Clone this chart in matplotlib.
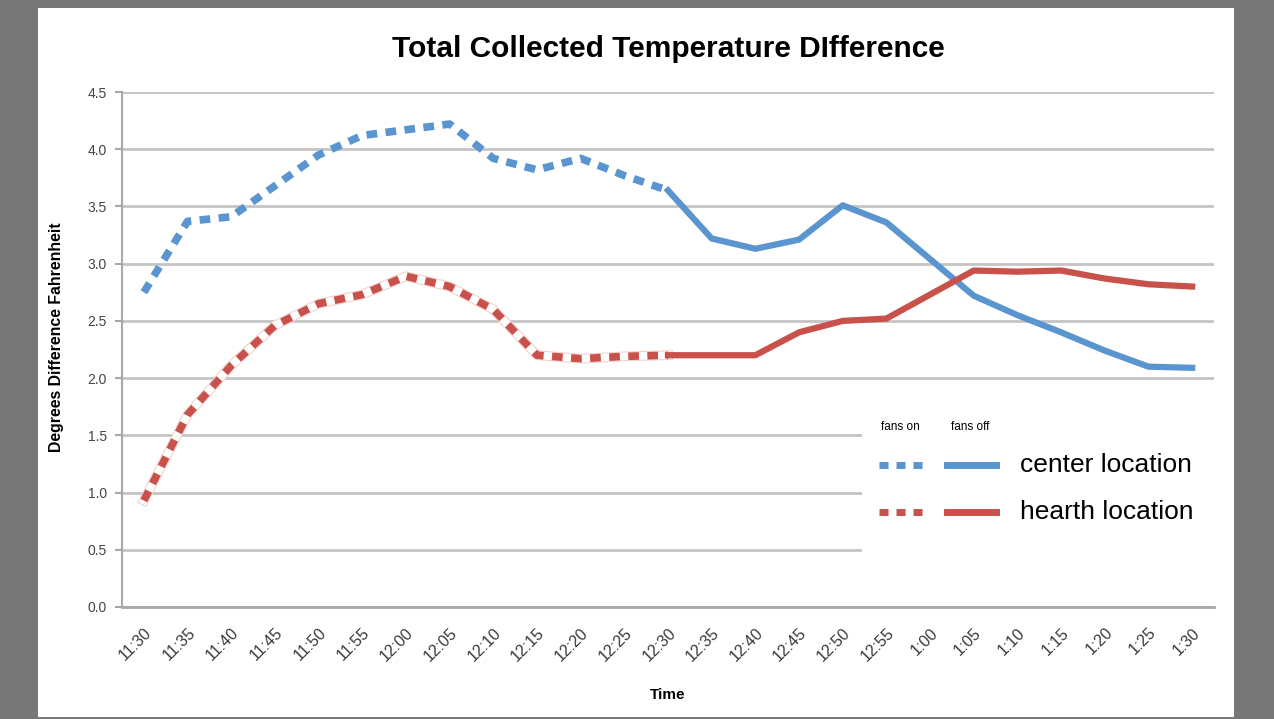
import matplotlib
matplotlib.use("Agg")
from matplotlib import pyplot as plt
from matplotlib.patches import Rectangle
from matplotlib.lines import Line2D
import numpy as np

times = ["11:30", "11:35", "11:40", "11:45", "11:50", "11:55", "12:00", "12:05",
         "12:10", "12:15", "12:20", "12:25", "12:30", "12:35", "12:40", "12:45",
         "12:50", "12:55", "1:00", "1:05", "1:10", "1:15", "1:20", "1:25", "1:30"]

center = [2.75, 3.37, 3.41, 3.68, 3.95, 4.12, 4.17, 4.22, 3.92, 3.82, 3.92, 3.77,
          3.64, 3.22, 3.13, 3.21, 3.51, 3.36, 3.04, 2.72, 2.55, 2.40, 2.24, 2.10, 2.09]
hearth = [0.93, 1.68, 2.11, 2.46, 2.65, 2.73, 2.89, 2.80, 2.60, 2.20, 2.17, 2.19,
          2.20, 2.20, 2.20, 2.40, 2.50, 2.52, 2.73, 2.94, 2.93, 2.94, 2.87, 2.82, 2.80]
fans_off_start = 12  # index of 12:30

blue = "#5b95cf"
red = "#c9514b"

W, H = 1274, 719
fig = plt.figure(figsize=(W / 100, H / 100), dpi=100)
fig.patch.set_facecolor("#777777")
fig.patches.append(Rectangle((38 / W, 2 / H), (1234 - 38) / W, (711 - 2) / H,
                             transform=fig.transFigure, facecolor="white",
                             edgecolor="none", zorder=-5))

ax = fig.add_axes([122 / W, 1 - 607 / H, (1214 - 122) / W, (607 - 92) / H])
ax.set_facecolor("none")

x = np.arange(len(times))
on = slice(0, fans_off_start + 1)
off = slice(fans_off_start, len(times))
center = np.array(center)
hearth = np.array(hearth)

# fans on (dotted)
ax.plot(x[on], center[on], color=blue, lw=5.5, linestyle=(0, (1.4, 1.1)),
        dash_capstyle="butt", zorder=3)
ax.plot(x[on], hearth[on], color="#f2cfcc", lw=7, zorder=2)
ax.plot(x[on], hearth[on], color="white", lw=5.5, zorder=2.5)
ax.plot(x[on], hearth[on], color=red, lw=5.5, linestyle=(0, (1.4, 1.1)),
        dash_capstyle="butt", zorder=3)
# fans off (solid)
ax.plot(x[off], center[off], color=blue, lw=4.5, zorder=3, solid_joinstyle="round")
ax.plot(x[off], hearth[off], color=red, lw=4.5, zorder=3, solid_joinstyle="round")

ax.set_xlim(-0.5, len(times) - 0.5)
ax.set_ylim(0, 4.5)
ax.set_yticks(np.arange(0, 4.51, 0.5))
ax.set_yticklabels(["%.1f" % v for v in np.arange(0, 4.51, 0.5)])
ax.set_xticks(x)
ax.set_xticklabels(times, rotation=45, ha="right", va="top", rotation_mode="anchor")

ax.yaxis.grid(True, color="#c4c4c4", lw=2)
ax.set_axisbelow(True)
for s in ["top", "right"]:
    ax.spines[s].set_visible(False)
ax.spines["left"].set_color("#a8a8a8")
ax.spines["bottom"].set_color("#a8a8a8")
ax.spines["left"].set_linewidth(1.5)
ax.spines["bottom"].set_linewidth(2)
ax.tick_params(axis="y", length=5, color="#a8a8a8", width=1.5, labelsize=10,
               labelcolor="#444444", pad=6)
ax.tick_params(axis="x", length=0, labelsize=11.5, labelcolor="#3a3a3a", pad=13)
for t in ax.get_xticklabels() + ax.get_yticklabels():
    t.set_fontfamily("Liberation Sans")

fig.text(668 / W, 1 - 49 / H, "Total Collected Temperature DIfference",
         ha="center", va="center", fontsize=21.5, fontweight="bold",
         family="Liberation Sans")
fig.text(57 / W, 1 - 337 / H, "Degrees Difference Fahrenheit", rotation=90,
         ha="center", va="center", fontsize=11.4, fontweight="bold",
         family="Liberation Sans")
fig.text(668 / W, 1 - 695 / H, "Time", ha="center", va="center", fontsize=11,
         fontweight="bold", family="Liberation Sans")

# legend box (covers gridlines)
fig.patches.append(Rectangle((862 / W, 1 - 560 / H), (1222 - 862) / W, (560 - 405) / H,
                             transform=fig.transFigure, facecolor="white",
                             edgecolor="none", zorder=5))
fig.text(900 / W, 1 - 427 / H, "fans on", ha="center", va="center", fontsize=8.5,
         family="Liberation Sans", zorder=6)
fig.text(970 / W, 1 - 427 / H, "fans off", ha="center", va="center", fontsize=8.5,
         family="Liberation Sans", zorder=6)
for yy, col, lab in [(465, blue, "center location"), (512, red, "hearth location")]:
    fig.lines.append(Line2D([879 / W, 923 / W], [1 - yy / H] * 2, transform=fig.transFigure,
                            color=col, lw=5, linestyle=(0, (1.3, 1.15)),
                            dash_capstyle="butt", zorder=6))
    fig.lines.append(Line2D([947 / W, 996 / W], [1 - yy / H] * 2, transform=fig.transFigure,
                            color=col, lw=5, zorder=6))
    fig.text(1020 / W, 1 - yy / H, lab, ha="left", va="center", fontsize=19,
             family="Liberation Sans", zorder=6)

fig.savefig("out.png", dpi=100, facecolor=fig.get_facecolor())
